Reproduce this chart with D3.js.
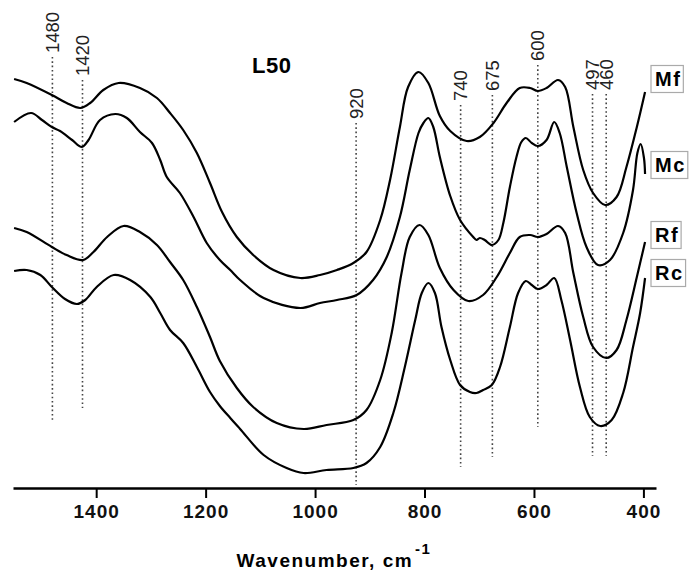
<!DOCTYPE html>
<html>
<head>
<meta charset="utf-8">
<script src="https://cdn.jsdelivr.net/npm/d3@7"></script>
<style>
  body { margin: 0; background: #fff; }
  text { font-family: Arial, "Liberation Sans", sans-serif; }
</style>
</head>
<body>
<script>
// FTIR spectra, sample L50 (absorbance in arbitrary units, curves offset)
var seriesNames = ['Mf', 'Mc', 'Rf', 'Rc'];

var mfPoints = [[1550,409],[1527,405],[1481,393],[1454,385],[1429,380],[1411,385],[1387,398],[1359,405],[1320,400],[1289,390],[1265,375],[1241,358],[1216,335],[1192,305],[1170,276],[1143,251],[1113,233],[1076,218],[1027,210],[991,213],[960,218],[930,225],[906,236],[881,268],[863,308],[845,361],[830,401],[811,416],[793,405],[772,372],[753,357],[723,347],[699,351],[674,365],[650,385],[626,400],[607,400],[593,397],[577,400],[556,408],[543,401],[528,361],[510,318],[492,295],[470,283],[449,291],[431,321],[412,361],[397,396]];

var mcPoints = [[1550,366],[1519,375],[1499,368],[1481,361],[1466,357],[1444,348],[1426,341],[1414,348],[1393,368],[1365,374],[1344,370],[1320,356],[1298,345],[1283,328],[1271,311],[1247,295],[1222,271],[1198,245],[1174,228],[1155,218],[1137,208],[1094,190],[1027,180],[991,185],[960,188],[924,193],[894,208],[869,231],[845,271],[827,318],[811,355],[802,365],[793,370],[784,361],[772,331],[753,292],[735,268],[711,251],[705,248],[699,250],[690,248],[677,243],[665,248],[656,265],[644,301],[632,331],[623,346],[615,350],[604,345],[593,342],[577,348],[563,366],[553,355],[540,321],[522,275],[504,241],[483,223],[461,228],[437,255],[419,298],[411,335],[405,344],[399,330],[397,314]];

var rfPoints = [[1550,260],[1527,256],[1481,241],[1454,233],[1424,228],[1405,236],[1380,251],[1350,262],[1320,256],[1289,243],[1265,226],[1241,208],[1216,181],[1192,151],[1174,127],[1143,100],[1113,81],[1070,65],[1021,59],[979,63],[930,68],[906,78],[881,108],[860,155],[842,215],[827,251],[809,263],[793,253],[772,220],[747,198],[720,187],[693,193],[668,211],[644,235],[626,251],[607,253],[593,251],[577,254],[556,262],[543,255],[528,215],[510,171],[492,141],[468,130],[449,138],[431,168],[412,211],[397,246]];

var rcPoints = [[1550,217],[1527,218],[1502,213],[1481,201],[1457,189],[1435,184],[1420,188],[1399,201],[1368,213],[1338,208],[1301,191],[1283,175],[1265,158],[1241,145],[1216,121],[1192,96],[1174,82],[1155,70],[1137,59],[1094,33],[1052,20],[1021,15],[979,18],[930,20],[906,25],[881,41],[857,75],[836,121],[817,168],[805,195],[793,205],[781,195],[769,161],[753,128],[735,103],[717,96],[705,95],[693,98],[677,103],[662,121],[644,161],[629,195],[615,207],[604,203],[593,199],[577,203],[563,210],[550,188],[534,148],[516,101],[498,71],[479,62],[458,68],[437,95],[419,141],[406,175],[397,210]];

// band markers (dotted lines)
var markerLabels = ['1480', '1420', '920', '740', '675', '600', '497', '460'];
var markerWn     = [1480, 1425, 925, 734, 676, 593, 493, 468];
var markerTop    = [431, 408, 365, 383, 393, 423, 394, 394];
var markerBottom = [66, 80, 3, 21, 31, 61, 32, 32];

var majorTicks = [1400, 1200, 1000, 800, 600, 400];
var minorTicks = [1500, 1300, 1100, 900, 700, 500];

var allSeries = [mfPoints, mcPoints, rfPoints, rcPoints];

var width = 690;
var height = 572;
var legendTop = [65, 151, 221, 259];

var svg = d3.select('body')
    .append('svg')
    .attr('width', width)
    .attr('height', height)
    ;

var x = d3.scaleLinear().domain([1552, 377]).range([13, 656]);
var y = d3.scaleLinear().domain([0, 430]).range([488, 58]);

// dotted band lines
var markers = svg.append('g').selectAll('g')
    .data(markerWn)
    .enter()
    .append('g')
    ;

markers.append('line')
    .attr('x1', function (d) { return x(d); })
    .attr('x2', function (d) { return x(d); })
    .attr('y1', function (d, i) { return y(markerTop[i]); })
    .attr('y2', function (d, i) { return y(markerBottom[i]); })
    .attr('stroke', '#444')
    .attr('stroke-width', 1.6)
    .attr('stroke-dasharray', '1.6 2.7')
    ;

markers.append('text')
    .attr('transform', function (d, i) {
        return 'translate(' + x(d) + ',' + (y(markerTop[i]) - 4) + ') rotate(-90)';
    })
    .attr('dy', '0.35em')
    .attr('font-size', 18.5)
    .attr('fill', '#222')
    .text(function (d, i) { return markerLabels[i]; })
    ;

// spectra
var line = d3.line()
    .x(function (d) { return x(d[0]); })
    .y(function (d) { return y(d[1]); })
    .curve(d3.curveCatmullRom.alpha(0.5))
    ;

svg.append('g').selectAll('path')
    .data(allSeries)
    .enter()
    .append('path')
    .attr('d', line)
    .attr('fill', 'none')
    .attr('stroke', '#000')
    .attr('stroke-width', 2.2)
    .attr('stroke-linejoin', 'round')
    ;

// legend labels in boxes
var legend = svg.append('g').selectAll('g')
    .data(seriesNames)
    .enter()
    .append('g')
    .attr('transform', function (d, i) { return 'translate(0,' + legendTop[i] + ')'; })
    ;

legend.append('text')
    .attr('x', 655)
    .attr('y', 21)
    .attr('font-size', 20)
    .attr('font-weight', 'bold')
    .attr('letter-spacing', 1.5)
    .text(function (d) { return d; })
    ;

legend.each(function () {
    var g = d3.select(this);
    var bb = g.select('text').node().getBBox();
    g.insert('rect', 'text')
        .attr('x', 651)
        .attr('y', 0.5)
        .attr('width', Math.min(bb.width + 6, 38))
        .attr('height', 27)
        .attr('fill', '#fff')
        .attr('stroke', '#aaa')
        .attr('stroke-width', 1.2)
        ;
});

// sample label
svg.append('text')
    .attr('x', 252)
    .attr('y', 73)
    .attr('font-size', 22)
    .attr('font-weight', 'bold')
    .attr('letter-spacing', 0.5)
    .text('L50')
    ;

// x axis
var axisG = svg.append('g')
    .attr('transform', 'translate(0,' + y(0) + ')')
    ;

axisG.call(d3.axisBottom(x).tickValues(minorTicks).tickSize(6).tickSizeOuter(0).tickFormat(''));
axisG.call(d3.axisBottom(x).tickValues(majorTicks).tickSize(10).tickSizeOuter(0).tickPadding(7).tickFormat(d3.format('d')));

axisG.selectAll('.domain').attr('stroke-width', 2.6).attr('stroke', '#000');
axisG.selectAll('.tick line').attr('stroke-width', 2).attr('stroke', '#000');
axisG.selectAll('.tick text')
    .attr('font-size', 19)
    .attr('font-weight', 'bold')
    .attr('letter-spacing', 1)
    .attr('fill', '#111')
    .attr('font-family', 'Arial, "Liberation Sans", sans-serif')
    ;

var title = svg.append('text')
    .attr('x', 334)
    .attr('y', 567)
    .attr('text-anchor', 'middle')
    .attr('font-size', 19)
    .attr('font-weight', 'bold')
    .attr('letter-spacing', 1.5)
    ;
title.append('tspan').text('Wavenumber, cm');
title.append('tspan')
    .attr('font-size', 15)
    .attr('dy', -13)
    .attr('dx', 2)
    .text('-1')
    ;
</script>
</body>
</html>
